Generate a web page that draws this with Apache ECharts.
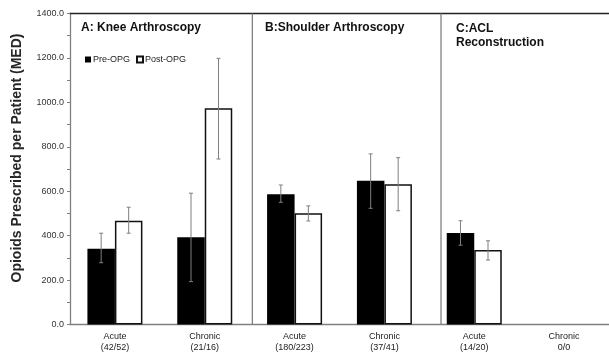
<!DOCTYPE html>
<html><head><meta charset="utf-8">
<script src="https://cdn.jsdelivr.net/npm/echarts@6/dist/echarts.min.js"></script>
<style>html,body{margin:0;padding:0;background:#fff}#c{width:609px;height:354px}</style>
</head><body><div id="c"></div>
<script>
var categories = ['Acute\n(42/52)','Chronic\n(21/16)','Acute\n(180/223)','Chronic\n(37/41)','Acute\n(14/20)','Chronic\n0/0'];
var preValues  = [341, 393, 586, 647, 412, null];
var postValues = [467, 973, 501, 631, 335, null];
var preLow  = [278, 193, 550, 523, 357, null];
var preHigh = [411, 591, 628, 768, 467, null];
var postLow  = [411, 745, 466, 512, 290, null];
var postHigh = [528, 1198, 534, 751, 377, null];
var separators = [2.03, 4.13];
var yTicks = [0, 200, 400, 600, 800, 1000, 1200, 1400];
var panelTitles = ['A: Knee Arthroscopy', 'B:Shoulder Arthroscopy', 'C:ACL\nReconstruction'];
var yTitle = 'Opioids Prescribed per Patient (MED)';

var BW = 27.5;
function errData(low, high, side){
  var d = [];
  for (var i=0;i<low.length;i++){ if (low[i]!=null) d.push([i, low[i], high[i], side]); }
  return d;
}
function renderErr(params, api){
  var i = api.value(0), lo = api.value(1), hi = api.value(2), side = api.value(3);
  var p1 = api.coord([i, lo]), p2 = api.coord([i, hi]);
  var x = p1[0] + side*BW/2;
  var cap = 2;
  var st = {stroke:'#7f7f7f', lineWidth:1};
  return {type:'group', children:[
    {type:'line', shape:{x1:x,y1:p1[1],x2:x,y2:p2[1]}, style:st},
    {type:'line', shape:{x1:x-cap,y1:p1[1],x2:x+cap,y2:p1[1]}, style:st},
    {type:'line', shape:{x1:x-cap,y1:p2[1],x2:x+cap,y2:p2[1]}, style:st}
  ]};
}
function renderSep(params, api){
  var x = api.coord([api.value(0), 0]);
  var top = api.coord([api.value(0), 1400]);
  return {type:'line', shape:{x1:x[0],y1:x[1],x2:top[0],y2:top[1]}, style:{stroke:'#808080', lineWidth:1.3}};
}
var chart = echarts.init(document.getElementById('c'), null, {renderer:'canvas'});
var txt = {fontFamily:'Liberation Sans, Arial, sans-serif'};
chart.setOption({
  animation:false,
  backgroundColor:'#fff',
  textStyle:txt,
  title:[
    {text:panelTitles[0], left:76, top:17, textStyle:{fontSize:12, fontWeight:'bold', color:'#111', fontFamily:txt.fontFamily}},
    {text:panelTitles[1], left:260, top:17, textStyle:{fontSize:12, fontWeight:'bold', color:'#111', fontFamily:txt.fontFamily}},
    {text:panelTitles[2], left:451, top:17, textStyle:{fontSize:12, fontWeight:'bold', color:'#111', lineHeight:14, fontFamily:txt.fontFamily}}
  ],
  graphic:[{type:'text', x:17, y:158, rotation:Math.PI/2,
    style:{text:yTitle, fontSize:14, fontWeight:'bold', fill:'#262626', fontFamily:txt.fontFamily, align:'center', verticalAlign:'middle'}}],
  legend:{
    left:80, top:50, itemWidth:6, itemHeight:6, itemGap:6, icon:'rect',
    textStyle:{fontSize:9, color:'#222', padding:[0,0,0,-3], fontFamily:txt.fontFamily},
    data:['Pre-OPG','Post-OPG']
  },
  grid:{left:70, right:-1, top:13.5, bottom:29.5, containLabel:false},
  xAxis:[
    {type:'category', data:categories, axisLine:{lineStyle:{color:'#808080', width:1.3}},
     axisTick:{show:false}, axisLabel:{fontSize:9, color:'#222', lineHeight:11, margin:7, interval:0}},
    {type:'value', min:0, max:6, position:'top', axisLine:{show:true, onZero:false, lineStyle:{color:'#222', width:1.3}},
     axisTick:{show:false}, axisLabel:{show:false}, splitLine:{show:false}}
  ],
  yAxis:{type:'value', min:0, max:1400, interval:200,
    axisLine:{show:true, lineStyle:{color:'#808080', width:1.3}},
    axisTick:{show:true, length:3, lineStyle:{color:'#808080'}},
    minorTick:{show:true, splitNumber:2, length:3, lineStyle:{color:'#808080'}},
    splitLine:{show:false},
    axisLabel:{fontSize:9, color:'#333', margin:6, formatter:function(v){return v.toFixed(1);}}
  },
  series:[
    {name:'Pre-OPG', type:'bar', data:preValues, barWidth:BW, barGap:'0%', itemStyle:{color:'#000'}},
    {name:'Post-OPG', type:'bar', data:postValues, barWidth:BW, barGap:'0%', itemStyle:{color:'#fff', borderColor:'#111', borderWidth:1.5}},
    {type:'custom', renderItem:renderErr, data:errData(preLow, preHigh, -1), z:5},
    {type:'custom', renderItem:renderErr, data:errData(postLow, postHigh, 1), z:5},
    {type:'custom', xAxisIndex:1, renderItem:renderSep, data:separators.map(function(s){return [s];}), z:4}
  ]
});
</script></body></html>
